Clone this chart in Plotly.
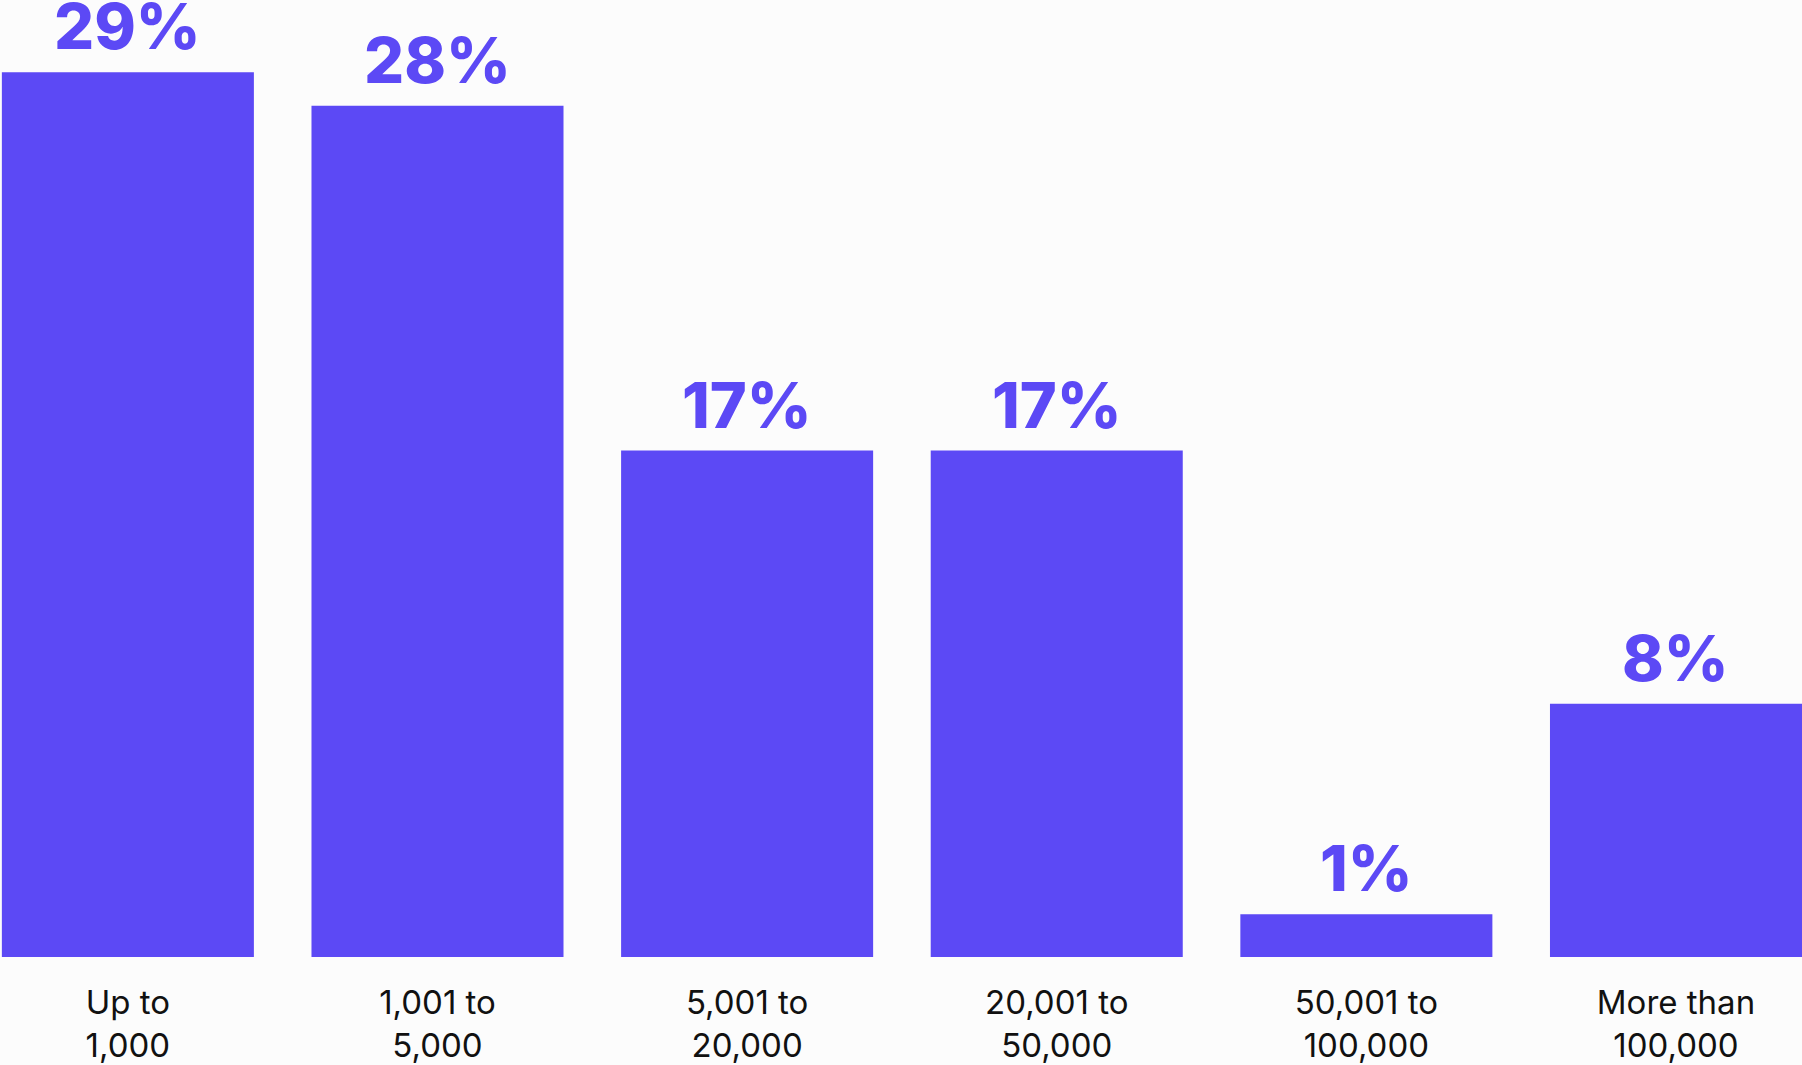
import plotly.graph_objects as go

categories = ["Up to<br>1,000", "1,001 to<br>5,000", "5,001 to<br>20,000",
              "20,001 to<br>50,000", "50,001 to<br>100,000", "More than<br>100,000"]
shares = [29.0, 27.9, 16.6, 16.6, 1.4, 8.3]

BAR = "#5C49F5"
BG = "#FCFCFC"
FONT = "Inter, Lato, sans-serif"

fig = go.Figure(go.Bar(
    x=categories,
    y=shares,
    width=0.814,
    marker=dict(color=BAR, line=dict(width=0)),
    hoverinfo="skip",
))

for cat, val in zip(categories, shares):
    fig.add_annotation(
        x=cat, y=val, text=f"{round(val)}%",
        showarrow=False, yanchor="bottom", yshift=6,
        font=dict(family=FONT, size=63, color=BAR, weight=800),
    )

fig.update_layout(
    width=1802, height=1065,
    margin=dict(l=0, r=0, t=0, b=108),
    paper_bgcolor=BG, plot_bgcolor=BG,
    showlegend=False,
    xaxis=dict(
        range=[-0.413, 5.407],
        showgrid=False, zeroline=False, showline=False,
        ticks="outside", ticklen=16, tickcolor="rgba(0,0,0,0)",
        tickfont=dict(family=FONT, size=33, color="#111111"),
    ),
    yaxis=dict(
        range=[0, 31.37], visible=False, showgrid=False, zeroline=False,
    ),
)

fig.write_html("out.html")
